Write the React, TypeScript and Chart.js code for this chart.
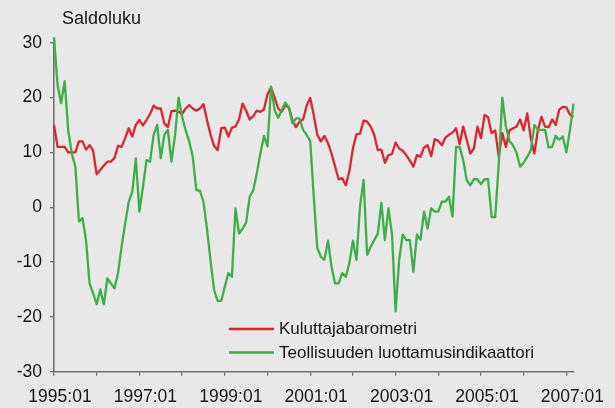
import React, { useEffect, useRef } from 'react';
import { Chart, registerables } from 'chart.js';

Chart.register(...registerables);

// Monthly periods 1995:01 .. 2007:03
const years = [1995, 1996, 1997, 1998, 1999, 2000, 2001, 2002, 2003, 2004, 2005, 2006, 2007];
const monthCodes = ['01', '02', '03', '04', '05', '06', '07', '08', '09', '10', '11', '12'];
const periods: string[] = [];
years.forEach((y) => monthCodes.forEach((m) => periods.push(`${y}:${m}`)));
const categories = periods.slice(0, 147);

const seriesNames = ['Kuluttajabarometri', 'Teollisuuden luottamusindikaattori'];

const kuluttajabarometri = [
  15, 11, 11, 11, 10, 10, 10, 12, 12, 10.5, 11.3, 10.3,
  6, 6.8, 7.6, 8.3, 8.3, 9, 11.2, 11, 12.6, 14.4, 12.9, 15,
  15.9, 14.9, 15.9, 17, 18.5, 18, 18, 15.3, 14.6, 17.5, 17.6, 17.4,
  17, 18, 18.6, 18, 17.6, 18, 18.8, 15.9, 13.2, 11.2, 10.4, 14.4,
  14.5, 12.9, 14.5, 14.7, 16, 18.9, 17.6, 16, 16.6, 17.6, 17.4, 17.8,
  20.6, 21.8, 20, 18, 17.4, 18.6, 18.2, 15.9, 14.6, 15.6, 16, 18.5,
  19.9, 16.8, 13.2, 12, 13, 11.7, 9.8, 7.4, 5.1, 5.3, 4, 6.5,
  10.7, 13.3, 13.4, 15.8, 15.6, 14.7, 13.2, 10.4, 10.5, 8.1, 9.5, 9.7,
  11.8, 10.7, 10.3, 9.5, 8.5, 7.4, 9.5, 9.2, 10.9, 11.3, 9.3, 12.4,
  12.1, 11.3, 12.7, 13.2, 13.6, 14.4, 11.5, 14.7, 12.3, 9.8, 10.7, 14.7,
  12.6, 16.8, 16.4, 13.5, 14, 9.2, 13.5, 11, 14, 14.4, 14.7, 16,
  14, 17.1, 12.6, 9.8, 14.1, 16.5, 14.7, 14.6, 16, 15, 17.8, 18.3,
  18.2, 16.9, 16.5,
];

const teollisuus = [
  31, 22.3, 19, 23, 14, 9.8, 7.4, -2.6, -2, -6, -13.9, -15.7,
  -17.7, -15, -17.7, -13, -13.9, -14.8, -12, -7.2, -3, 1, 2.8, 8.9,
  -0.8, 3.7, 8.6, 8.3, 13.2, 15, 8.9, 13.2, 14.1, 8.3, 13, 20,
  16.5, 14, 12, 9.2, 3.1, 3, 1, -4, -9.8, -15.1, -17.1, -17.1,
  -14.5, -12, -12.7, -0.2, -4.8, -3.9, -2.8, 1.9, 3.1, 6.2, 9.8, 13,
  11.1, 22, 17.7, 16.3, 17.7, 19.1, 18.2, 15.3, 16.2, 16.2, 14.1, 13.2,
  12.1, 2, -7.5, -9, -9.6, -6.1, -10.9, -13.9, -13.9, -12, -12.7, -10.2,
  -6.1, -9.6, 0.1, 5, -8.7, -7.2, -6, -4.8, 0.8, -6, -0.2, -5,
  -19, -9.6, -5, -6, -6, -11.8, -5, -5.9, -0.8, -3.9, -0.2, -0.8,
  -0.8, 1, 1, 1.9, -1.7, 11, 11, 8.6, 4.9, 4, 5.1, 5.1,
  4.2, 5.1, 5.1, -1.8, -1.8, 8, 20, 14.7, 12.1, 11.3, 9.9, 7.4,
  8.1, 9.2, 10.4, 15, 14.1, 14.1, 14.1, 10.9, 11, 13, 12.3, 12.9,
  10, 14.1, 18.9,
];

const yTicks = [-30, -20, -10, 0, 10, 20, 30];
const yTitle = 'Saldoluku';

const RED = '#d9252f';
const GREEN = '#3dae48';
const BG = '#e8e8e8';
const AXIS = '#707070';
const TEXT = '#161616';
const FONT = '"Liberation Sans", Arial, sans-serif';

const decorPlugin = {
  id: 'decor',
  beforeDraw(chart: any) {
    const { ctx, width, height } = chart;
    ctx.save();
    ctx.fillStyle = BG;
    ctx.fillRect(0, 0, width, height);
    ctx.restore();
  },
  afterDraw(chart: any) {
    const { ctx } = chart;
    ctx.save();
    // axis title
    ctx.fillStyle = TEXT;
    ctx.font = `18px ${FONT}`;
    ctx.textAlign = 'left';
    ctx.textBaseline = 'alphabetic';
    ctx.fillText(yTitle, 62, 23.5);
    // legend
    const colors = [RED, GREEN];
    const ys = [329, 352.5];
    ctx.font = `17px ${FONT}`;
    ctx.textBaseline = 'middle';
    seriesNames.forEach((name, i) => {
      ctx.strokeStyle = colors[i];
      ctx.lineWidth = 2.5;
      ctx.beginPath();
      ctx.moveTo(229, ys[i]);
      ctx.lineTo(274, ys[i]);
      ctx.stroke();
      ctx.fillStyle = TEXT;
      ctx.fillText(name, 279, ys[i] + 0.5);
    });
    ctx.restore();
  },
};

export default function App() {
  const ref = useRef<HTMLCanvasElement>(null);

  useEffect(() => {
    document.body.style.margin = '0';
    document.body.style.background = BG;
    const canvas = ref.current!;
    const chart = new Chart(canvas, {
      type: 'line',
      data: {
        labels: categories,
        datasets: [
          {
            label: seriesNames[0],
            data: kuluttajabarometri,
            borderColor: RED,
            backgroundColor: RED,
            borderWidth: 2.3,
            borderJoinStyle: 'round',
            pointRadius: 0,
            tension: 0,
            order: 2,
            clip: false as any,
          },
          {
            label: seriesNames[1],
            data: teollisuus,
            borderColor: GREEN,
            backgroundColor: GREEN,
            borderWidth: 2.3,
            borderJoinStyle: 'round',
            pointRadius: 0,
            tension: 0,
            order: 1,
            clip: false as any,
          },
        ],
      },
      options: {
        animation: false,
        responsive: false,
        devicePixelRatio: 1,
        events: [],
        layout: { padding: { top: 42.7, right: 41.5, left: 0, bottom: 0 } },
        plugins: {
          legend: { display: false },
          title: { display: false },
          tooltip: { enabled: false },
        },
        scales: {
          x: {
            type: 'category',
            offset: false,
            grid: {
              display: true,
              drawOnChartArea: false,
              drawTicks: true,
              tickLength: 4,
              color: AXIS,
              lineWidth: 1.3,
            },
            border: { display: true, color: AXIS, width: 1.6 },
            afterBuildTicks: (axis: any) => {
              axis.ticks = axis.ticks.filter((t: any) => categories[t.value].endsWith(':01'));
            },
            afterFit: (axis: any) => {
              axis.height = 408 - 371.7;
            },
            ticks: {
              autoSkip: false,
              maxRotation: 0,
              minRotation: 0,
              padding: 11,
              labelOffset: 6,
              color: TEXT,
              font: { family: FONT, size: 17.5 },
              callback: (value: any) => {
                const l = categories[value as number];
                const y = parseInt(l.slice(0, 4), 10);
                return y % 2 === 1 ? l : '';
              },
            },
          },
          y: {
            type: 'linear',
            min: -30,
            max: 30,
            grid: {
              display: true,
              drawOnChartArea: false,
              drawTicks: true,
              tickLength: 4,
              color: AXIS,
              lineWidth: 1.3,
            },
            border: { display: true, color: AXIS, width: 1.6 },
            afterBuildTicks: (axis: any) => {
              axis.ticks = yTicks.map((v) => ({ value: v }));
            },
            afterFit: (axis: any) => {
              axis.width = 54;
            },
            ticks: {
              padding: 8,
              color: TEXT,
              font: { family: FONT, size: 17.5 },
            },
          },
        },
      },
      plugins: [decorPlugin],
    });
    return () => chart.destroy();
  }, []);

  return <canvas ref={ref} width={615} height={408} style={{ display: 'block', width: 615, height: 408 }} />;
}
